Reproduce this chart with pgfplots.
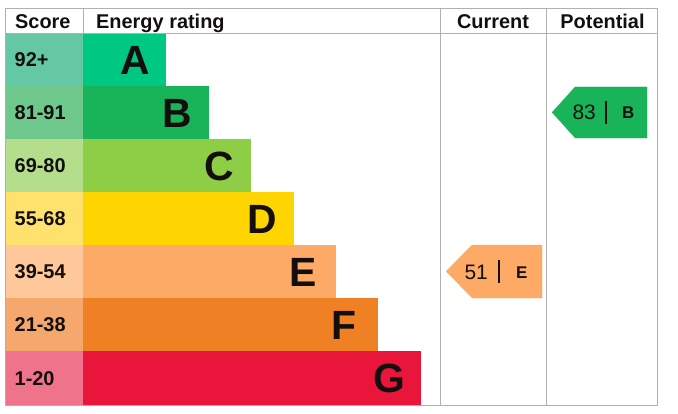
\documentclass[border=0pt]{standalone}
\usepackage{pgfplots}
\pgfplotsset{compat=1.18}
\usepackage{fontspec}
\setmainfont{Liberation Sans}
\definecolor{barA}{RGB}{0,200,130}
\definecolor{barB}{RGB}{25,180,90}
\definecolor{barC}{RGB}{141,206,70}
\definecolor{barD}{RGB}{255,213,0}
\definecolor{barE}{RGB}{252,170,101}
\definecolor{barF}{RGB}{239,128,35}
\definecolor{barG}{RGB}{233,21,59}
\definecolor{scA}{RGB}{100,200,165}
\definecolor{scB}{RGB}{110,200,140}
\definecolor{scC}{RGB}{180,222,140}
\definecolor{scD}{RGB}{255,226,110}
\definecolor{scE}{RGB}{254,200,154}
\definecolor{scF}{RGB}{245,168,110}
\definecolor{scG}{RGB}{240,115,140}
\definecolor{frame}{RGB}{176,176,176}
\definecolor{ink}{RGB}{20,15,15}
\begin{document}
\begin{tikzpicture}
\begin{axis}[
  scale only axis, width=678bp, height=414bp,
  xmin=0, xmax=678, ymin=0, ymax=414, y dir=reverse,
  hide axis, clip=false,
]
% score cells
\addplot[fill=scA, draw=scA, line width=0.2pt] coordinates {(5,33) (83,33) (83,86) (5,86)};
\addplot[fill=scB, draw=scB, line width=0.2pt] coordinates {(5,86) (83,86) (83,139) (5,139)};
\addplot[fill=scC, draw=scC, line width=0.2pt] coordinates {(5,139) (83,139) (83,192) (5,192)};
\addplot[fill=scD, draw=scD, line width=0.2pt] coordinates {(5,192) (83,192) (83,245) (5,245)};
\addplot[fill=scE, draw=scE, line width=0.2pt] coordinates {(5,245) (83,245) (83,298) (5,298)};
\addplot[fill=scF, draw=scF, line width=0.2pt] coordinates {(5,298) (83,298) (83,351) (5,351)};
\addplot[fill=scG, draw=scG, line width=0.2pt] coordinates {(5,351) (83,351) (83,405) (5,405)};
% rating bars
\addplot[fill=barA, draw=barA, line width=0.2pt] coordinates {(83,33) (165,33) (165,86) (83,86)};
\addplot[fill=barB, draw=barB, line width=0.2pt] coordinates {(83,86) (208,86) (208,139) (83,139)};
\addplot[fill=barC, draw=barC, line width=0.2pt] coordinates {(83,139) (250,139) (250,192) (83,192)};
\addplot[fill=barD, draw=barD, line width=0.2pt] coordinates {(83,192) (293,192) (293,245) (83,245)};
\addplot[fill=barE, draw=barE, line width=0.2pt] coordinates {(83,245) (335,245) (335,298) (83,298)};
\addplot[fill=barF, draw=barF, line width=0.2pt] coordinates {(83,298) (377,298) (377,351) (83,351)};
\addplot[fill=barG, draw=barG, line width=0.2pt] coordinates {(83,351) (420,351) (420,405) (83,405)};
% frame
\draw[frame, line width=0.9bp] (axis cs:5,8) rectangle (axis cs:657,405);
\draw[frame, line width=0.9bp] (axis cs:5,33) -- (axis cs:657,33);
\draw[frame, line width=0.9bp] (axis cs:83,8) -- (axis cs:83,33);
\draw[frame, line width=0.9bp] (axis cs:440,8) -- (axis cs:440,405);
\draw[frame, line width=0.9bp] (axis cs:546,8) -- (axis cs:546,405);
% arrows
\addplot[fill=barE, draw=barE, line width=0.2pt] coordinates {(446,271.5) (472,245) (542,245) (542,298) (472,298)};
\addplot[fill=barB, draw=barB, line width=0.2pt] coordinates {(552,112.5) (575,87) (647,87) (647,138) (575,138)};
% header texts
\begin{scope}[every node/.style={inner sep=0pt, text=ink}]
\node[anchor=base west, font=\fontsize{20}{22}\selectfont\bfseries] at (axis cs:15,29) {Score};
\node[anchor=base west, font=\fontsize{20}{22}\selectfont\bfseries] at (axis cs:96,29) {Energy rating};
\node[anchor=base, font=\fontsize{20}{22}\selectfont\bfseries] at (axis cs:493,29) {Current};
\node[anchor=base, font=\fontsize{20}{22}\selectfont\bfseries] at (axis cs:602.5,29) {Potential};
% score labels
\node[anchor=base west, font=\fontsize{20}{22}\selectfont\bfseries] at (axis cs:14.5,66.5) {92+};
\node[anchor=base west, font=\fontsize{20}{22}\selectfont\bfseries] at (axis cs:14.5,119.5) {81-91};
\node[anchor=base west, font=\fontsize{20}{22}\selectfont\bfseries] at (axis cs:14.5,172.5) {69-80};
\node[anchor=base west, font=\fontsize{20}{22}\selectfont\bfseries] at (axis cs:14.5,225.5) {55-68};
\node[anchor=base west, font=\fontsize{20}{22}\selectfont\bfseries] at (axis cs:14.5,278.5) {39-54};
\node[anchor=base west, font=\fontsize{20}{22}\selectfont\bfseries] at (axis cs:14.5,331.5) {21-38};
\node[anchor=base west, font=\fontsize{20}{22}\selectfont\bfseries] at (axis cs:14.5,385) {1-20};
% rating letters
\node[anchor=base east, font=\fontsize{41}{44}\selectfont\bfseries] at (axis cs:150,75) {A};
\node[anchor=base east, font=\fontsize{41}{44}\selectfont\bfseries] at (axis cs:192,127.5) {B};
\node[anchor=base east, font=\fontsize{41}{44}\selectfont\bfseries] at (axis cs:234,180.5) {C};
\node[anchor=base east, font=\fontsize{41}{44}\selectfont\bfseries] at (axis cs:277,233.5) {D};
\node[anchor=base east, font=\fontsize{41}{44}\selectfont\bfseries] at (axis cs:317,286.5) {E};
\node[anchor=base east, font=\fontsize{41}{44}\selectfont\bfseries] at (axis cs:357,339.5) {F};
\node[anchor=base east, font=\fontsize{41}{44}\selectfont\bfseries] at (axis cs:405,392.5) {G};
% arrow texts
\node[anchor=base east, font=\fontsize{21}{23}\selectfont] at (axis cs:488,279.5) {51};
\node[anchor=base west, font=\fontsize{17}{19}\selectfont\bfseries] at (axis cs:516,278.5) {E};
\node[anchor=base east, font=\fontsize{21}{23}\selectfont] at (axis cs:596,119.5) {83};
\node[anchor=base west, font=\fontsize{17}{19}\selectfont\bfseries] at (axis cs:622,118.5) {B};
\end{scope}
\draw[ink, line width=1.6bp] (axis cs:499,260) -- (axis cs:499,283);
\draw[ink, line width=1.6bp] (axis cs:606,101) -- (axis cs:606,124);
\end{axis}
\pgfresetboundingbox
\path (current axis.south west) rectangle (current axis.north east);
\end{tikzpicture}
\end{document}
